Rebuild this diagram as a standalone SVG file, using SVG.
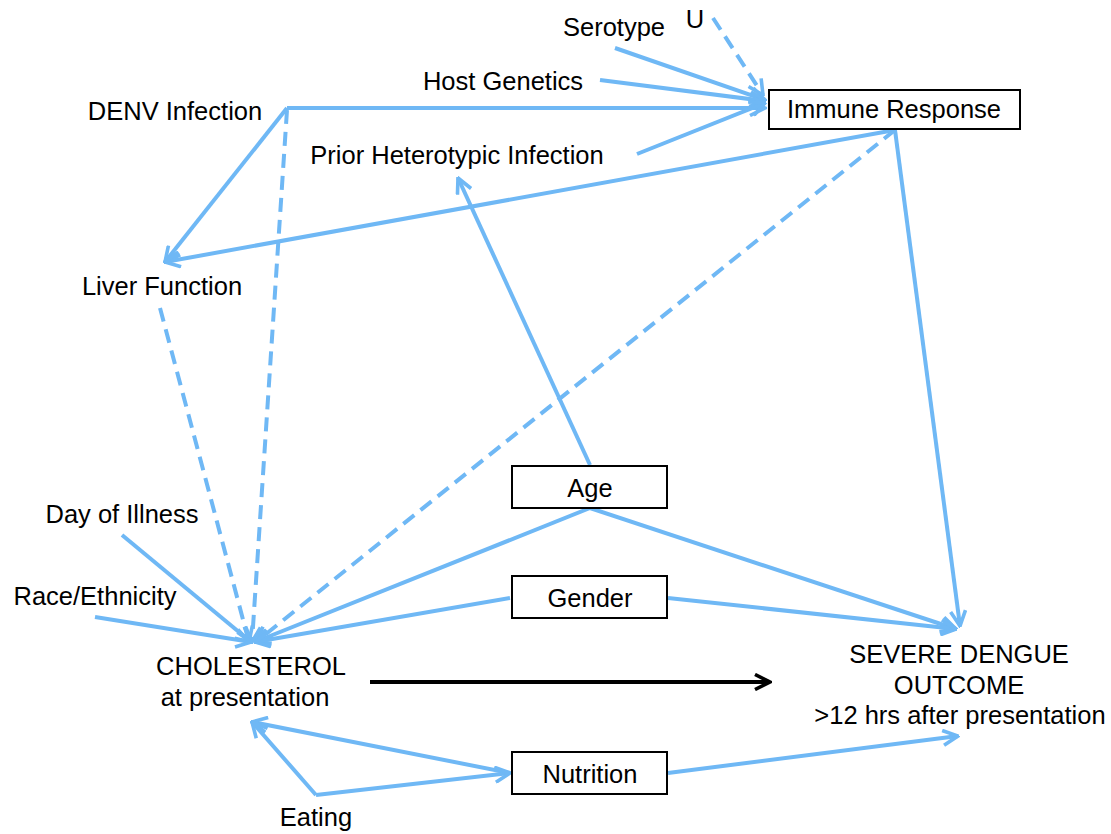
<svg xmlns="http://www.w3.org/2000/svg" width="1111" height="834" viewBox="0 0 1111 834">
<style>
text{font-family:"Liberation Sans",Arial,sans-serif;font-size:25.5px;fill:#000;text-anchor:middle}
.e{stroke:#6fb8f5;stroke-width:4;fill:none;marker-end:url(#a)}
.n{stroke:#6fb8f5;stroke-width:4;fill:none}
.d{stroke-dasharray:14,8}
.k{stroke:#000;stroke-width:4;fill:none;marker-end:url(#b)}
rect{fill:#fff;stroke:#000;stroke-width:2}
</style>
<defs>
<marker id="a" viewBox="0 0 12 12" refX="11" refY="6" markerWidth="18" markerHeight="18" markerUnits="userSpaceOnUse" orient="auto"><path d="M1,1 L11,6 L1,11" fill="none" stroke="#6fb8f5" stroke-width="2.4"/></marker>
<marker id="b" viewBox="0 0 12 12" refX="11" refY="6" markerWidth="18" markerHeight="18" markerUnits="userSpaceOnUse" orient="auto"><path d="M1,1 L11,6 L1,11" fill="none" stroke="#000" stroke-width="2.4"/></marker>
</defs>
<g id="connectors">
<path class="e" d="M615,48 L765,100"/>
<path class="e" d="M600,80 L765,101"/>
<path class="e" d="M287,108 L765,108"/>
<path class="e" d="M287,108 L165,262"/>
<path class="e" d="M637,154 L765,103"/>
<path class="e d" d="M713,18 L763,95"/>
<path class="e" d="M895,130 L165,262"/>
<path class="e d" d="M287,110 L252,642"/>
<path class="e d" d="M895,130 L256,642"/>
<path class="e" d="M895,130 L960,626"/>
<path class="e d" d="M160,308 L249,642"/>
<path class="e" d="M590,465 L458,178"/>
<path class="e" d="M590,508 L255,642"/>
<path class="e" d="M590,508 L956,629"/>
<path class="e" d="M510,598 L255,642"/>
<path class="e" d="M668,598 L956,629"/>
<path class="e" d="M122,535 L251,642"/>
<path class="e" d="M95,617 L251,642"/>
<path class="k" d="M370,682 L770,682"/>
<path class="e" d="M510,773 L252,722"/>
<path class="e" d="M316,795 L252,722"/>
<path class="e" d="M316,795 L510,773"/>
<path class="e" d="M668,773 L958,736"/>
</g>
<g id="serotype"><text x="614" y="36">Serotype</text></g>
<g id="u"><text x="695" y="28">U</text></g>
<g id="host"><text x="503" y="90">Host Genetics</text></g>
<g id="denv"><text x="175" y="120">DENV Infection</text></g>
<g id="prior"><text x="457" y="164">Prior Heterotypic Infection</text></g>
<g id="immune"><rect x="769" y="90" width="251" height="39"/><text x="894" y="118">Immune Response</text></g>
<g id="liver"><text x="162" y="295">Liver Function</text></g>
<g id="day"><text x="122" y="523">Day of Illness</text></g>
<g id="race"><text x="95" y="605">Race/Ethnicity</text></g>
<g id="chol"><text x="251" y="675">CHOLESTEROL</text><text x="245" y="706">at presentation</text></g>
<g id="severe"><text x="959" y="663">SEVERE DENGUE</text><text x="959" y="694">OUTCOME</text><text x="960" y="724">&gt;12 hrs after presentation</text></g>
<g id="age"><rect x="512" y="466" width="155" height="42"/><text x="590" y="497">Age</text></g>
<g id="gender"><rect x="512" y="576" width="155" height="42"/><text x="590" y="607">Gender</text></g>
<g id="nutrition"><rect x="512" y="752" width="155" height="42"/><text x="590" y="783">Nutrition</text></g>
<g id="eating"><text x="316" y="826">Eating</text></g>
</svg>
